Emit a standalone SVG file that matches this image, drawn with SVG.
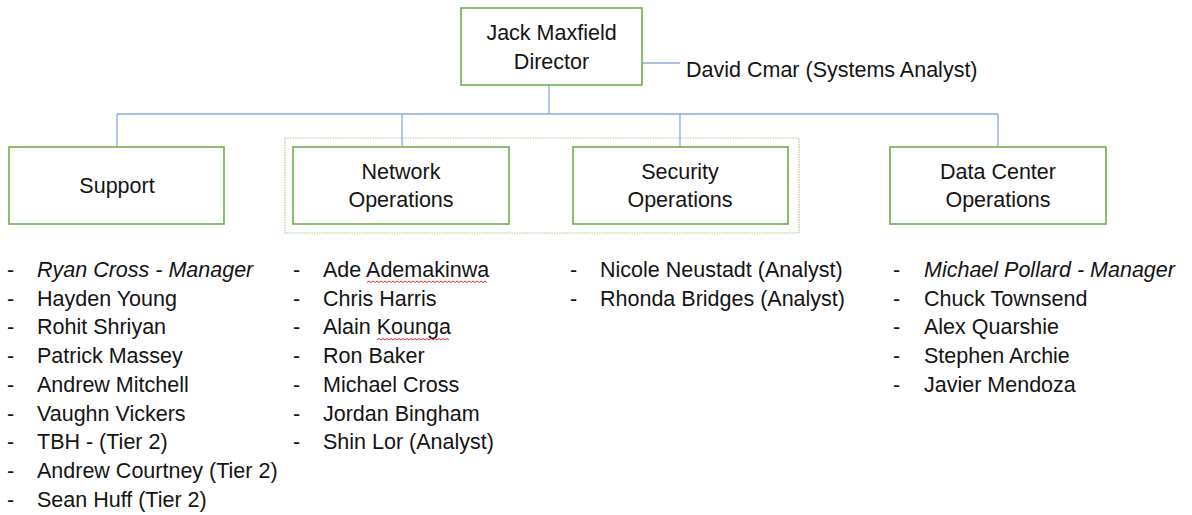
<svg xmlns="http://www.w3.org/2000/svg" width="1192" height="515" viewBox="0 0 1192 515">
<style>
.box{fill:#fff;stroke:#70AD47;stroke-width:1.6}
.grp{fill:none;stroke:#A9D18E;stroke-width:1.2;stroke-dasharray:1.5 1}
.con{fill:none;stroke:#8FAADC;stroke-width:1.3}
text{font-family:"Liberation Sans",Arial,sans-serif;font-size:21.5px;fill:#141414}
.c{text-anchor:middle}
.i{font-style:italic}
.sq{fill:none;stroke:#E0302A;stroke-width:1}
</style>
<rect width="1192" height="515" fill="#fff"/>
<g id="connectors">
<path class="con" d="M549 85V114M117 114H998M117 114V147M402 114V147M680 114V147M998 114V147M642 63H680"/>
</g>
<rect id="group-ops" class="grp" x="285" y="138" width="514" height="95"/>
<g id="director">
<rect class="box" x="461" y="8" width="181" height="77"/>
<text class="c" x="551.5" y="40">Jack Maxfield</text>
<text class="c" x="551.5" y="69">Director</text>
</g>
<g id="analyst">
<text x="686" y="77">David Cmar (Systems Analyst)</text>
</g>
<g id="support">
<rect class="box" x="9" y="147" width="215" height="77"/>
<text class="c" x="117" y="193">Support</text>
</g>
<g id="network">
<rect class="box" x="293" y="147" width="216" height="77"/>
<text class="c" x="401" y="179">Network</text>
<text class="c" x="401" y="207">Operations</text>
</g>
<g id="security">
<rect class="box" x="573" y="147" width="215" height="77"/>
<text class="c" x="680" y="179">Security</text>
<text class="c" x="680" y="207">Operations</text>
</g>
<g id="datacenter">
<rect class="box" x="890" y="147" width="216" height="77"/>
<text class="c" x="998" y="179">Data Center</text>
<text class="c" x="998" y="207">Operations</text>
</g>
<g id="support-list">
<text x="7" y="277">-</text><text class="i" x="37" y="277">Ryan Cross - Manager</text>
<text x="7" y="305.7">-</text><text x="37" y="305.7">Hayden Young</text>
<text x="7" y="334.4">-</text><text x="37" y="334.4">Rohit Shriyan</text>
<text x="7" y="363.1">-</text><text x="37" y="363.1">Patrick Massey</text>
<text x="7" y="391.8">-</text><text x="37" y="391.8">Andrew Mitchell</text>
<text x="7" y="420.5">-</text><text x="37" y="420.5">Vaughn Vickers</text>
<text x="7" y="449.2">-</text><text x="37" y="449.2">TBH - (Tier 2)</text>
<text x="7" y="477.9">-</text><text x="37" y="477.9">Andrew Courtney (Tier 2)</text>
<text x="7" y="506.6">-</text><text x="37" y="506.6">Sean Huff (Tier 2)</text>
</g>
<g id="network-list">
<text x="293" y="277">-</text><text x="323" y="277">Ade Ademakinwa</text>
<text x="293" y="305.7">-</text><text x="323" y="305.7">Chris Harris</text>
<text x="293" y="334.4">-</text><text x="323" y="334.4">Alain Kounga</text>
<text x="293" y="363.1">-</text><text x="323" y="363.1">Ron Baker</text>
<text x="293" y="391.8">-</text><text x="323" y="391.8">Michael Cross</text>
<text x="293" y="420.5">-</text><text x="323" y="420.5">Jordan Bingham</text>
<text x="293" y="449.2">-</text><text x="323" y="449.2">Shin Lor (Analyst)</text>
<path class="sq" d="M367 282.5l2 -1.5 2 1.5 2 -1.5 2 1.5 2 -1.5 2 1.5 2 -1.5 2 1.5 2 -1.5 2 1.5 2 -1.5 2 1.5 2 -1.5 2 1.5 2 -1.5 2 1.5 2 -1.5 2 1.5 2 -1.5 2 1.5 2 -1.5 2 1.5 2 -1.5 2 1.5 2 -1.5 2 1.5 2 -1.5 2 1.5 2 -1.5 2 1.5 2 -1.5 2 1.5 2 -1.5 2 1.5 2 -1.5 2 1.5 2 -1.5 2 1.5 2 -1.5 2 1.5 2 -1.5 2 1.5 2 -1.5 2 1.5 2 -1.5 2 1.5 2 -1.5 2 1.5 2 -1.5 2 1.5 2 -1.5 2 1.5 2 -1.5 2 1.5 2 -1.5 2 1.5 2 -1.5 2 1.5 2 -1.5 2 1.5"/>
<path class="sq" d="M377 340l2 -1.5 2 1.5 2 -1.5 2 1.5 2 -1.5 2 1.5 2 -1.5 2 1.5 2 -1.5 2 1.5 2 -1.5 2 1.5 2 -1.5 2 1.5 2 -1.5 2 1.5 2 -1.5 2 1.5 2 -1.5 2 1.5 2 -1.5 2 1.5 2 -1.5 2 1.5 2 -1.5 2 1.5 2 -1.5 2 1.5 2 -1.5 2 1.5 2 -1.5 2 1.5 2 -1.5 2 1.5 2 -1.5 2 1.5"/>
</g>
<g id="security-list">
<text x="570" y="277">-</text><text x="600" y="277">Nicole Neustadt (Analyst)</text>
<text x="570" y="305.7">-</text><text x="600" y="305.7">Rhonda Bridges (Analyst)</text>
</g>
<g id="datacenter-list">
<text x="893" y="277">-</text><text class="i" x="924" y="277">Michael Pollard - Manager</text>
<text x="893" y="305.7">-</text><text x="924" y="305.7">Chuck Townsend</text>
<text x="893" y="334.4">-</text><text x="924" y="334.4">Alex Quarshie</text>
<text x="893" y="363.1">-</text><text x="924" y="363.1">Stephen Archie</text>
<text x="893" y="391.8">-</text><text x="924" y="391.8">Javier Mendoza</text>
</g>
</svg>
